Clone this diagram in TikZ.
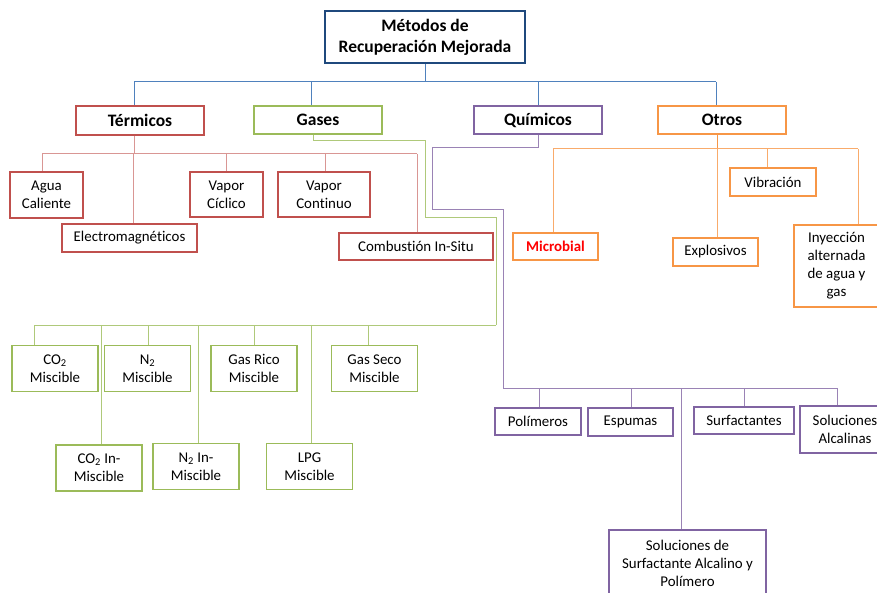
\documentclass[tikz,border=0pt]{standalone}
\usepackage{fontspec}
\setmainfont{Carlito}[Ligatures=NoCommon]
\usepackage{xcolor}
\usetikzlibrary{positioning, calc}
\definecolor{navy}{RGB}{31,73,125}
\definecolor{offblue}{RGB}{79,129,189}
\definecolor{offred}{RGB}{192,80,77}
\definecolor{offgreen}{RGB}{155,187,89}
\definecolor{offpurple}{RGB}{128,100,162}
\definecolor{offorange}{RGB}{247,150,70}

\begin{document}
\begin{tikzpicture}[x=1pt, y=-1pt,
    box/.style={draw, line width=1.7pt, fill=white, align=center, inner sep=1pt,
      font=\fontsize{14.9}{18}\selectfont},
    head/.style={box, font=\fontsize{17.5}{21}\selectfont\bfseries},
    link/.style={line width=1pt}]
  \useasboundingbox (0,0) rectangle (877,593);
  % main boxes
  \node[head, draw=navy, minimum width=200, minimum height=52] (root) at (425,37)
    {Métodos de\\Recuperación Mejorada};
  \node[head, draw=offred, minimum width=128, minimum height=29] (term) at (140,120.5) {Térmicos};
  \node[head, draw=offgreen, minimum width=128, minimum height=28] (gases) at (318,120) {Gases};
  \node[head, draw=offpurple, minimum width=128, minimum height=28] (quim) at (538,120) {Químicos};
  \node[head, draw=offorange, minimum width=128, minimum height=28] (otros) at (722,120) {Otros};
  % termicos
  \begin{scope}[every node/.style={box, draw=offred}]
    \node[minimum width=73, minimum height=46] (agua) at (46.5,195) {Agua\\Caliente};
    \node[minimum width=135, minimum height=28] (electro) at (129.5,238) {Electromagnéticos};
    \node[minimum width=73, minimum height=45] (vcic) at (226.5,194.5) {Vapor\\Cíclico};
    \node[minimum width=92, minimum height=45] (vcon) at (324,194.5) {Vapor\\Continuo};
    \node[minimum width=154, minimum height=27] (comb) at (416,246.5) {Combustión In-Situ};
  \end{scope}
  % gases
  \begin{scope}[every node/.style={box, draw=offgreen, minimum width=86, minimum height=46}]
    \node (co2m) at (55,368.5) {CO\textsubscript{2}\\Miscible};
    \node (n2m) at (147.5,368.5) {N\textsubscript{2}\\Miscible};
    \node (gasrico) at (254,368.5) {Gas Rico\\Miscible};
    \node (gasseco) at (374.5,368.5) {Gas Seco\\Miscible};
    \node (co2i) at (99,468) {CO\textsubscript{2} In-\\Miscible};
    \node (n2i) at (196,466.5) {N\textsubscript{2} In-\\Miscible};
    \node (lpg) at (309.5,466.5) {LPG\\Miscible};
  \end{scope}
  % quimicos
  \begin{scope}[every node/.style={box, draw=offpurple}]
    \node[minimum width=86, minimum height=27] (poli) at (538,421.5) {Polímeros};
    \node[minimum width=85, minimum height=28] (espu) at (630.5,422) {Espumas};
    \node[minimum width=100, minimum height=27] (surf) at (744,420.5) {Surfactantes};
    \node[minimum width=90, minimum height=47] (solalc) at (845,429.5) {Soluciones\\Alcalinas};
    \node[minimum width=157, minimum height=66] (sap) at (687.5,563)
      {Soluciones de\\Surfactante Alcalino y\\Polímero};
  \end{scope}
  % otros
  \begin{scope}[every node/.style={box, draw=offorange}]
    \node[minimum width=85, minimum height=27, text=red, font=\fontsize{14.9}{18}\selectfont\bfseries]
      (micro) at (555.5,246.5) {Microbial};
    \node[minimum width=85, minimum height=28] (explo) at (715.5,252) {Explosivos};
    \node[minimum width=86, minimum height=28] (vib) at (773,182) {Vibración};
    \node[minimum width=85, minimum height=82] (iny) at (836.5,266)
      {Inyección\\alternada\\de agua y\\gas};
  \end{scope}

  % root links
  \coordinate (rb) at (425,82);
  \draw[link, offblue] (root.south) -- (rb);
  \draw[link, offblue] ([xshift=-6]rb -| term.north) -- ([xshift=-6]rb -| otros.north);
  \foreach \n/\dx in {term/-6, gases/-7, quim/0, otros/-6}
    \draw[link, offblue] ([xshift=\dx]rb -| \n.north) -- ([xshift=\dx]\n.north);

  % termicos links
  \draw[link, offred!60] ([xshift=-6]term.south) -- ++(0,18) coordinate (tb);
  \draw[link, offred!60] ([xshift=-4.5]tb -| agua.north) -- ([xshift=1]tb -| comb.north);
  \foreach \n/\dx in {agua/-4.5, electro/3.5, vcic/0, vcon/1, comb/1}
    \draw[link, offred!60] ([xshift=\dx]tb -| \n.north) -- ([xshift=\dx]\n.north);

  % gases links
  \draw[link, offgreen!80] ([xshift=-5]gases.south) -- ++(0,6) -| (425,218) -| (496,325) coordinate (gb);
  \draw[link, offgreen!80] (gb) -- ([xshift=-21]gb -| co2m.north);
  \foreach \n/\dx in {co2m/-21, co2i/2, n2m/0.5, n2i/2, gasrico/0, lpg/1.5, gasseco/-6.5}
    \draw[link, offgreen!80] ([xshift=\dx]gb -| \n.north) -- ([xshift=\dx]\n.north);

  % quimicos links
  \draw[link, offpurple!80] (quim.south) -- ++(0,13) -| (432,210) -| (503,388) coordinate (qb);
  \draw[link, offpurple!80] (qb) -- ([xshift=-8]qb -| solalc.north);
  \foreach \n/\dx in {poli/1, espu/0.5, sap/-6.5, surf/0, solalc/-8}
    \draw[link, offpurple!80] ([xshift=\dx]qb -| \n.north) -- ([xshift=\dx]\n.north);

  % otros links
  \draw[link, offorange] ([xshift=-5]otros.south) -- ++(0,14) coordinate (ob);
  \draw[link, offorange!80] ([xshift=-2.5]ob -| micro.north) -- ([xshift=21.5]ob -| iny.north);
  \foreach \n/\dx in {micro/-2.5, explo/1.5, vib/-6, iny/21.5}
    \draw[link, offorange!80] ([xshift=\dx]ob -| \n.north) -- ([xshift=\dx]\n.north);
\end{tikzpicture}
\end{document}
